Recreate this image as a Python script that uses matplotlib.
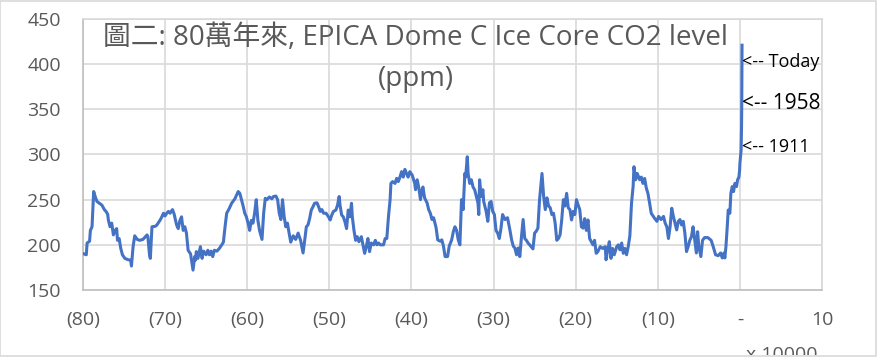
import numpy as np
import matplotlib
matplotlib.use('Agg')
import matplotlib.pyplot as plt
from matplotlib.patches import Rectangle

# EPICA Dome C CO2 record
# age in thousands of years before present (negative = after present), CO2 in ppm
age_kyr = [
    799, 796, 795, 792, 791, 789, 787, 785, 783, 780, 777, 774, 772, 770, 769, 767,
    765, 763, 761, 759, 758, 756, 754, 752, 749, 745, 742, 741, 739, 737, 734, 731,
    727, 722, 721, 719, 718, 716, 712, 710, 706, 704, 702, 700, 698, 696, 694, 691,
    689, 686, 684, 682, 680, 678, 676, 674, 672, 669, 666, 664, 663, 662, 660, 657,
    655, 653, 650, 648, 646, 644, 642, 640, 637, 634, 631, 629, 627, 625, 622, 619,
    615, 611, 609, 607, 605, 603, 601, 599, 597, 595, 593, 591, 589, 587, 585, 582,
    580, 578, 576, 573, 570, 568, 565, 563, 561, 559, 557, 555, 553, 551, 549, 547,
    544, 541, 538, 535, 532, 530, 528, 526, 524, 522, 520, 518, 515, 513, 511, 509,
    507, 504, 501, 499, 497, 495, 492, 490, 488, 487, 485, 483, 481, 479, 477, 475,
    473, 472, 470, 468, 466, 464, 461, 459, 457, 455, 453, 451, 449, 446, 444, 442,
    440, 438, 434, 432, 430, 428, 426, 425, 423, 420, 418, 416, 414, 412, 410, 408,
    406, 404, 402, 399, 396, 395, 393, 391, 389, 387, 386, 384, 381, 379, 377, 375,
    373, 370, 368, 365, 363, 361, 359, 356, 354, 351, 349, 347, 345, 343, 341, 339,
    337, 335, 334, 332, 331, 329, 327, 325, 323, 321, 319, 318, 317, 315, 313, 312,
    309, 307, 305, 303, 301, 299, 297, 295, 293, 291, 289, 286, 283, 280, 278, 276,
    274, 272, 270, 268, 266, 264, 262, 260, 258, 256, 252, 250, 248, 246, 244, 241,
    239, 237, 235, 233, 231, 229, 227, 225, 223, 221, 219, 217, 215, 213, 211, 209,
    207, 205, 203, 201, 199, 197, 195, 193, 191, 189, 187, 185, 183, 179, 177, 175,
    173, 170, 167, 164, 163, 161, 159, 157, 155, 153, 150, 148, 146, 144, 142, 140,
    138, 136, 134, 132, 130, 129, 127, 125, 122, 120, 118, 116, 114, 112, 110, 108,
    104, 101, 99, 96, 93, 91, 89, 87, 85, 83, 81, 79, 77, 75, 73, 71,
    69, 67, 65, 63, 61, 59, 57, 55, 53, 51.5, 50, 47.5, 45.5, 43, 39, 35,
    32.5, 29.6, 26.4, 23.5, 21.5, 19.5, 18.3, 17, 15.4, 14.2, 12.2, 11, 9.3, 7.7, 6.1, 4.1,
    2.8, 1.2, 0.3, 0.0, -1.5, -2.0, -2.3, -2.6,
]
co2_ppm = [
    190, 189, 202, 204, 216, 220, 259, 253, 248, 246, 244, 239, 237, 234, 227, 220,
    224, 211, 216, 218, 205, 207, 196, 189, 185, 183.5, 183, 176.5, 198, 210, 206, 205,
    206, 211, 209, 189, 185, 220, 220.5, 222, 227.5, 231, 235, 232, 235, 237, 235, 239,
    234, 222, 218, 227, 231, 216, 220, 213, 194, 190, 172, 187, 183, 192.5, 185, 198,
    185, 193, 189, 194, 189, 193, 187, 194, 193, 196, 200, 203, 220, 235, 240, 246,
    251, 259, 257, 250, 243, 235, 231, 224, 216, 227, 224, 235, 250, 227, 216, 206,
    235, 251.5, 250, 253, 251, 253.5, 254, 250, 235, 228, 250, 231, 220, 224, 213, 203,
    210, 206, 213, 205, 191, 205, 220, 222, 229, 238.5, 242, 246, 246.5, 242, 237, 239,
    235, 235, 231, 227.5, 233, 237, 238.5, 244, 253.5, 244, 233, 231, 225.5, 218, 238.5, 231,
    246, 231, 216, 205, 209, 203.5, 209, 200, 190.6, 198, 207, 192.5, 202, 200, 205, 200,
    202, 200, 200, 207, 207, 231, 250, 268, 270, 268, 273.6, 270, 275, 281, 275, 283.5,
    279, 275, 281, 277, 268, 261, 272, 263, 250, 261, 264, 252, 246.5, 239, 235, 228,
    230, 219, 205.5, 204, 205.5, 198.5, 187, 187, 198.5, 205.5, 214.5, 220, 216, 205.5, 200, 250,
    239, 279, 275, 297.5, 279, 268, 272, 264, 261, 253.5, 246.5, 233.5, 272, 253.5, 261, 248,
    237, 226, 246.5, 248, 237, 233.5, 216, 213, 207, 218, 233.5, 228, 230, 216, 205.5, 198.5,
    196.5, 189, 196.5, 187, 209, 228, 207, 205, 202, 200, 195.5, 213, 215, 218.5, 250, 279,
    253.5, 239, 252, 243, 241, 233.5, 235, 224, 205, 207, 211, 227.5, 250, 243, 257, 241,
    239, 227.5, 237, 233.5, 250, 244, 239, 220, 218.5, 229, 216, 227.5, 207, 200, 205, 190.6,
    192.5, 198, 196, 198, 183.5, 194.5, 203.5, 185, 196, 189, 198, 200, 194.5, 202, 190.6, 196,
    189, 198, 210, 246, 265, 286.5, 272, 279, 272, 275, 268, 273.5, 263, 257, 246.5, 235,
    229.5, 226, 231.5, 228, 231.5, 224, 220, 207, 220, 240.5, 231.5, 224, 216.5, 226, 228, 222,
    226, 213, 192.5, 198, 205, 209, 220, 205, 191, 214.5, 198, 187, 205, 208, 208, 205,
    198, 189, 188, 191, 185.5, 191, 185.5, 198, 220, 238.5, 235, 257, 264.5, 259, 268, 264.5,
    272, 275, 283, 290, 305, 330, 360, 421,
]

y_ticks = [150, 200, 250, 300, 350, 400, 450]
x_ticks = [-80, -70, -60, -50, -40, -30, -20, -10, 0, 10]
x_tick_labels = ['(80)', '(70)', '(60)', '(50)', '(40)', '(30)', '(20)', '(10)', '-', '10']

notes = ['<-- Today', '<-- 1958', '<-- 1911']
note_levels = [402, 357, 308]
note_sizes = [13, 15, 13]

plt.rcParams['font.family'] = ['Open Sans', 'Noto Sans CJK TC', 'DejaVu Sans']

W, H = 879, 358
fig = plt.figure(figsize=(W / 100, H / 100), dpi=100)
ax = fig.add_axes([83 / W, 1 - 290 / H, (822 - 83) / W, (290 - 19) / H])

x = -np.array(age_kyr) / 10.0
ax.plot(x, co2_ppm, color='#4472C4', lw=2.2, solid_joinstyle='round', zorder=3)

ax.set_xlim(-80, 10)
ax.set_ylim(150, 450)
ax.set_xticks(x_ticks)
ax.set_xticklabels(x_tick_labels)
ax.set_yticks(y_ticks)
ax.tick_params(axis='both', length=0, labelsize=14, labelcolor='#595959')
ax.tick_params(axis='x', pad=15)
ax.tick_params(axis='y', pad=16)
ax.grid(True, color='#d9d9d9', lw=1.2, zorder=0)
ax.set_axisbelow(True)
for side in ['top', 'right']:
    ax.spines[side].set_color('#d9d9d9')
    ax.spines[side].set_linewidth(1.2)
for side in ['left', 'bottom']:
    ax.spines[side].set_color('#bfbfbf')
    ax.spines[side].set_linewidth(1.2)

for label, level, size in zip(notes, note_levels, note_sizes):
    ax.text(0.2, level, label, ha='left', va='center', fontsize=size,
            color='black', clip_on=False)

fig.text(416 / W, 1 - 38 / H, '圖二: 80萬年來, EPICA Dome C Ice Core CO2 level',
         ha='center', va='center', fontsize=20, color='#595959')
fig.text(416 / W, 1 - 79 / H, '(ppm)', ha='center', va='center',
         fontsize=20, color='#595959')

fig.text(782 / W, 1 - 346 / H, 'x 10000', ha='center', va='top',
         fontsize=14, color='#595959')

# white strip below the chart frame, then the frame itself
fig.patches.append(Rectangle((0, 0), 1, 3 / H, transform=fig.transFigure,
                             facecolor='white', edgecolor='none', zorder=10))
fig.patches.append(Rectangle((0.5 / W, 1 - 355.5 / H), 876 / W, 355 / H,
                             transform=fig.transFigure, facecolor='none',
                             edgecolor='#d9d9d9', lw=1.2, zorder=11))

fig.savefig('out.png', dpi=100)
